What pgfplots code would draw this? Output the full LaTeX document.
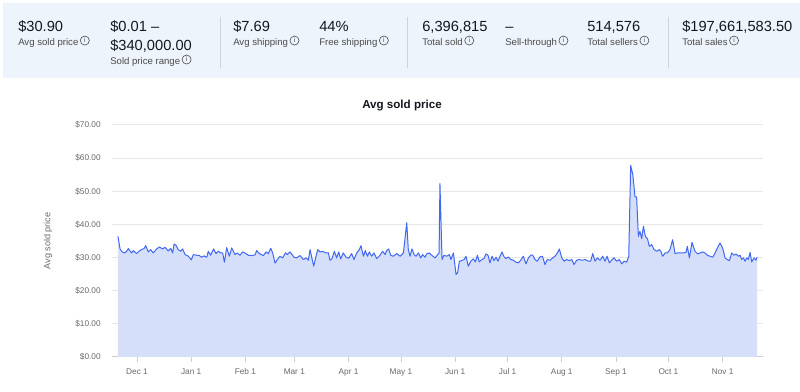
\documentclass[border=0pt]{standalone}
\usepackage{pgfplots}
\pgfplotsset{compat=1.18}
\usepackage{pgfplotstable}
\usepackage{fontspec}
\setmainfont{Liberation Sans}
\definecolor{hdrbg}{RGB}{238,244,252}
\definecolor{lineblue}{RGB}{66,104,240}
\definecolor{fillblue}{RGB}{214,223,250}
\definecolor{gridgray}{RGB}{232,232,232}
\definecolor{axgray}{RGB}{205,205,205}
\definecolor{txtgray}{RGB}{105,105,105}
\definecolor{lblgray}{RGB}{75,75,75}
\definecolor{numblack}{RGB}{20,24,30}
\definecolor{divgray}{RGB}{205,212,222}

\pgfplotstableread{
day price
-10.9 36.4
-9.7 32.6
-8.4 31.7
-7.3 31.4
-5.9 31.9
-5.0 32.7
-3.1 31.4
-2.1 32.1
-0.2 31.2
1.3 32.0
2.9 32.5
4.0 32.7
5.0 33.6
6.5 31.7
7.8 32.4
9.3 31.4
11.2 32.6
12.8 33.2
14.7 32.6
16.0 33.1
17.9 32.0
19.3 32.8
20.4 31.4
21.2 34.1
22.3 33.7
23.6 32.4
25.0 31.9
26.1 32.6
27.5 30.9
29.4 30.4
31.1 29.3
32.2 30.9
34.1 30.7
35.7 30.6
37.0 30.1
38.3 30.5
39.9 30.1
40.8 31.9
42.1 30.7
43.8 32.6
45.2 31.2
46.5 31.9
47.9 31.4
49.0 31.4
50.0 28.6
51.3 33.0
52.8 30.4
54.2 32.9
56.1 30.9
57.4 31.4
58.9 30.7
60.4 31.7
62.0 31.3
63.7 30.7
65.6 30.6
67.5 30.8
68.5 32.1
70.0 31.2
72.3 30.6
73.8 31.7
75.1 31.2
76.5 32.8
77.6 31.4
79.0 28.3
80.3 29.4
81.8 30.4
83.3 29.9
84.9 31.4
86.0 30.9
87.5 31.7
89.0 30.7
89.8 30.1
91.3 29.9
93.2 30.6
95.2 29.4
96.7 29.9
98.0 29.2
99.0 32.4
100.1 29.7
101.1 27.4
102.4 30.4
103.4 32.4
104.7 31.7
106.2 31.9
108.1 31.4
109.5 31.4
110.4 29.2
111.5 29.6
112.9 31.9
114.2 29.9
115.4 31.7
116.5 29.6
118.0 31.4
119.6 30.1
121.1 29.8
122.8 31.2
124.1 29.4
125.7 31.4
127.2 32.4
128.1 33.6
129.5 30.4
130.6 32.1
131.8 30.4
132.9 31.7
134.2 30.4
135.6 31.4
137.1 29.7
139.0 30.7
140.5 31.9
141.9 30.9
142.8 32.1
144.0 32.6
145.1 30.7
146.6 30.4
148.6 31.2
150.5 30.4
152.4 31.4
154.3 40.5
155.2 32.4
156.2 30.4
157.3 32.6
158.5 30.9
159.6 30.4
161.0 31.4
162.3 29.9
163.4 30.9
164.8 30.1
165.7 31.1
167.2 31.4
168.6 30.7
170.5 29.9
172.0 30.9
172.8 31.4
173.3 52.3
174.5 29.4
175.6 30.7
177.1 30.4
178.7 30.9
179.6 29.4
181.0 31.4
182.5 24.9
183.4 25.4
184.4 28.9
185.7 29.1
187.1 29.4
188.2 30.4
189.5 27.4
190.9 28.9
192.4 29.6
193.6 28.7
194.7 30.7
195.8 28.7
197.2 29.4
198.5 29.7
199.6 31.1
200.8 30.7
201.9 28.4
203.1 30.4
204.2 29.1
205.4 30.1
206.5 28.9
207.7 30.4
208.8 31.7
210.0 30.2
211.1 29.7
212.4 30.2
213.8 29.4
215.3 29.2
216.8 28.6
218.1 28.4
219.5 29.2
221.0 30.4
222.5 28.1
223.9 29.9
225.2 30.7
226.4 30.7
227.7 29.4
229.0 28.9
230.5 30.2
231.9 30.4
233.4 27.9
234.7 29.4
236.3 29.2
237.8 29.9
239.1 30.4
240.5 31.4
241.6 32.6
243.0 29.9
244.3 28.9
245.8 29.4
247.3 29.1
248.7 29.4
250.0 27.9
251.5 29.2
253.0 29.4
254.4 29.2
256.3 29.4
258.2 28.9
259.5 28.9
260.7 31.2
262.0 28.9
263.3 29.9
264.9 29.2
266.4 30.4
267.7 28.9
268.9 30.4
270.2 28.4
271.5 29.2
272.9 29.9
274.4 28.9
275.9 29.4
277.3 28.1
278.6 28.9
280.1 28.6
281.3 30.4
282.4 57.8
283.6 55.1
284.9 48.3
285.8 48.3
286.8 36.4
287.7 37.9
288.7 35.7
289.7 39.5
290.8 36.4
292.0 35.7
293.1 33.4
294.4 33.9
295.8 32.4
297.3 31.9
298.8 32.4
299.6 31.9
300.7 30.4
302.1 31.4
303.4 31.4
304.9 32.4
306.4 35.4
307.8 31.2
309.1 31.4
310.6 31.4
312.5 31.4
314.1 31.6
314.8 33.4
316.0 29.9
317.5 34.6
319.2 31.9
320.7 31.1
322.1 31.4
323.6 31.7
324.9 31.4
326.3 30.7
327.8 30.4
329.3 30.1
330.7 31.4
332.0 32.9
333.5 34.4
335.0 32.9
336.4 29.9
337.7 29.4
338.9 29.1
340.2 31.4
341.5 30.7
342.7 31.1
344.0 30.4
345.0 30.7
345.9 29.4
346.9 29.9
347.8 28.9
348.8 29.9
349.7 29.4
350.7 31.6
351.6 28.7
353.0 29.9
354.1 29.2
354.7 30.1
}\pricedata

\newcommand\info{\,\tikz[baseline=-0.6ex]\node[draw=lblgray,circle,inner sep=0pt,minimum size=6.8pt,line width=0.45pt,font=\fontsize{5}{5}\selectfont,text=lblgray]{i};}
\newcommand\bignum{\fontsize{11}{13}\selectfont\color{numblack}}
\newcommand\lbl{\fontsize{7.2}{8}\selectfont\color{lblgray}}

\begin{document}
\begin{tikzpicture}
\path[use as bounding box] (0,0) rectangle (600pt,294pt);
\begin{scope}[x=0.75pt,y=-0.75pt,yshift=294pt]
  % header panel
  \fill[hdrbg] (3,3) rectangle (800,78);
  \draw[divgray,line width=0.6pt] (220,17) -- (220,68);
  \draw[divgray,line width=0.6pt] (407,17) -- (407,68);
  \draw[divgray,line width=0.6pt] (668,17) -- (668,68);
  % stats
  \node[anchor=base west,inner sep=0pt] at (18,32) {\bignum \$30.90};
  \node[anchor=base west,inner sep=0pt] at (18,46) {\lbl Avg sold price\info};
  \node[anchor=base west,inner sep=0pt] at (110,32) {\bignum \$0.01 –};
  \node[anchor=base west,inner sep=0pt] at (110,51) {\bignum \$340,000.00};
  \node[anchor=base west,inner sep=0pt] at (110,65) {\lbl Sold price range\info};
  \node[anchor=base west,inner sep=0pt] at (233,32) {\bignum \$7.69};
  \node[anchor=base west,inner sep=0pt] at (233,46) {\lbl Avg shipping\info};
  \node[anchor=base west,inner sep=0pt] at (319,32) {\bignum 44\%};
  \node[anchor=base west,inner sep=0pt] at (319,46) {\lbl Free shipping\info};
  \node[anchor=base west,inner sep=0pt] at (422,32) {\bignum 6,396,815};
  \node[anchor=base west,inner sep=0pt] at (422,46) {\lbl Total sold\info};
  \node[anchor=base west,inner sep=0pt] at (505,32) {\bignum –};
  \node[anchor=base west,inner sep=0pt] at (505,46) {\lbl Sell-through\info};
  \node[anchor=base west,inner sep=0pt] at (587,32) {\bignum 514,576};
  \node[anchor=base west,inner sep=0pt] at (587,46) {\lbl Total sellers\info};
  \node[anchor=base west,inner sep=0pt] at (682,32) {\bignum \$197,661,583.50};
  \node[anchor=base west,inner sep=0pt] at (682,46) {\lbl Total sales\info};
  % chart title and y label
  \node[font=\bfseries\fontsize{8.7}{10}\selectfont,text=numblack] at (402,106) {Avg sold price};
  \node[rotate=90,font=\fontsize{6.8}{8}\selectfont,text=txtgray] at (48,241) {Avg sold price};
\end{scope}
\begin{axis}[
  at={(84pt,26.25pt)}, anchor=south west,
  scale only axis, width=488.25pt, height=174pt,
  xmin=-14.3, xmax=358.1, ymin=0, ymax=70,
  axis x line*=bottom, axis y line*=left,
  x axis line style={draw=axgray, line width=0.75pt, -},
  y axis line style={draw=none},
  ytick={0,10,20,30,40,50,60,70},
  yticklabel={\$\pgfmathprintnumber[fixed,fixed zerofill,precision=2]{\tick}},
  /pgf/number format/assume math mode=true,
  ytick style={draw=none},
  ymajorgrids, grid style={gridgray, line width=0.75pt},
  yticklabel style={font=\fontsize{6.2}{7}\selectfont, text=txtgray, xshift=-5pt},
  xtick={0,31,62,90,121,151,182,212,243,274,304,335},
  xticklabels={Dec 1,Jan 1,Feb 1,Mar 1,Apr 1,May 1,Jun 1,Jul 1,Aug 1,Sep 1,Oct 1,Nov 1},
  xtick align=outside, major tick length=3.75pt,
  xtick style={draw=axgray, line width=0.6pt},
  xticklabel style={font=\fontsize{6.2}{7}\selectfont, text=txtgray, text height=5pt, text depth=1.5pt, yshift=-1pt},
  clip=false,
]
\addplot[fill=fillblue, draw=none] table[x=day, y=price] {\pricedata} \closedcycle;
\addplot[lineblue, line width=0.75pt, line join=round] table[x=day, y=price] {\pricedata};
\end{axis}
\end{tikzpicture}
\end{document}
